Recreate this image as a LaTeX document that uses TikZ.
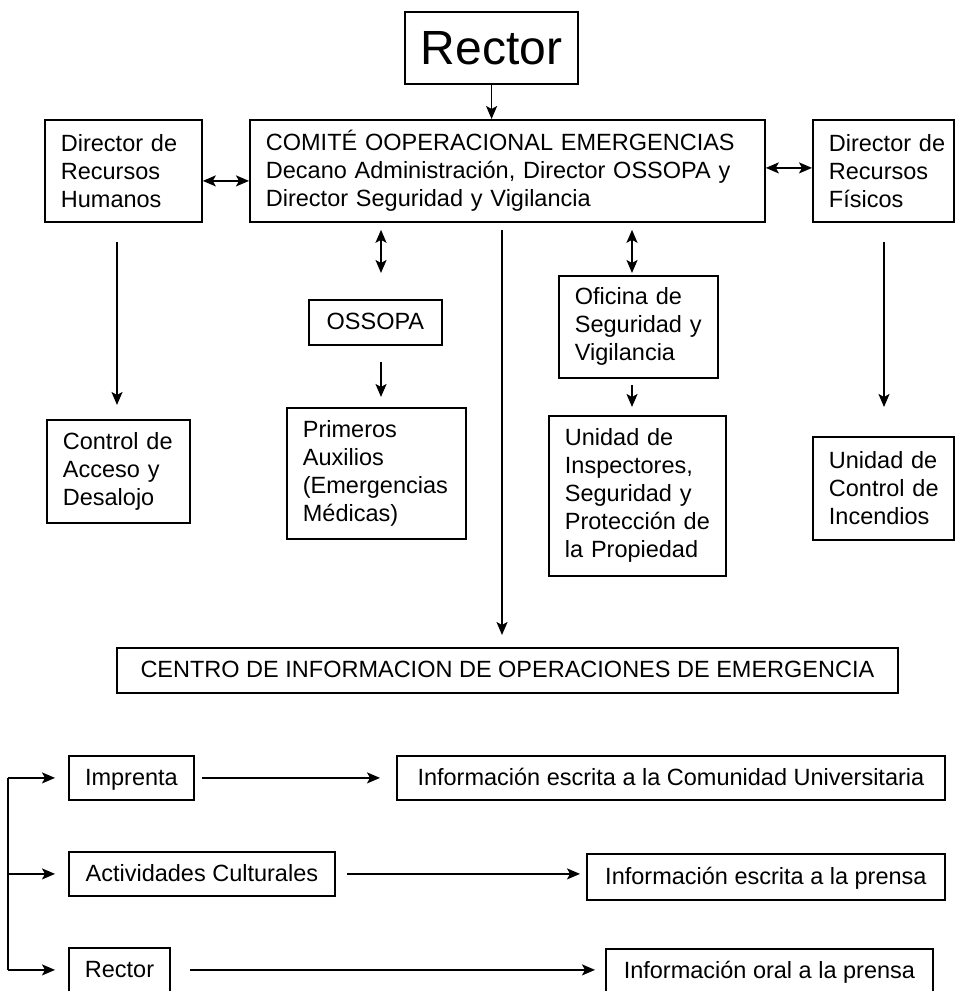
\documentclass[tikz,border=0pt]{standalone}
\usepackage{fontspec}
\setmainfont{Liberation Sans}
\usetikzlibrary{arrows.meta}
\hyphenpenalty=10000 \exhyphenpenalty=10000
\newcommand\ml[1]{\mbox{#1}}
\begin{document}
\begin{tikzpicture}[x=1pt,y=-1pt,
  box/.style={draw, line width=1.8pt, inner xsep=16pt, inner ysep=0pt,
    font=\fontsize{23.5}{28}\selectfont, anchor=north west},
  lbox/.style={box, align=left},
  cbox/.style={box, align=center, text height=17pt, text depth=2pt},
  arr/.style={line width=1.8pt, -{Stealth[length=13pt,width=11pt,inset=3pt]}},
  darr/.style={line width=1.8pt, {Stealth[length=13pt,width=11pt,inset=3pt]}-{Stealth[length=13pt,width=11pt,inset=3pt]}}]
\useasboundingbox (0,0) rectangle (955,991);
\fill[white] (0,0) rectangle (955,991);
% nodes
\node[box, align=center, font=\fontsize{48}{50}\selectfont, minimum width=173pt, minimum height=72pt] (rector) at (404,11) {Rector};
\node[lbox, text width=483pt, minimum height=102pt] (comite) at (249,119)
  {\ml{COMITÉ OOPERACIONAL EMERGENCIAS}\\\ml{Decano Administración, Director OSSOPA y}\\\ml{Director Seguridad y Vigilancia}};
\node[lbox, text width=125pt, minimum height=102pt] (drh) at (44,119)
  {\ml{Director de}\\\ml{Recursos}\\\ml{Humanos}};
\node[lbox, text width=109pt, minimum height=102pt] (drf) at (812,119)
  {\ml{Director de}\\\ml{Recursos}\\\ml{Físicos}};
\node[cbox, minimum width=133pt, minimum height=45pt] (ossopa) at (308,299) {OSSOPA};
\node[lbox, text width=147pt, minimum height=131pt] (prim) at (286,407)
  {\ml{Primeros}\\\ml{Auxilios}\\\ml{(Emergencias}\\\ml{Médicas)}};
\node[lbox, text width=127pt, minimum height=102pt] (ofic) at (558,275)
  {\ml{Oficina de}\\\ml{Seguridad y}\\\ml{Vigilancia}};
\node[lbox, text width=145pt, minimum height=160pt] (uinsp) at (548,415)
  {\ml{Unidad de}\\\ml{Inspectores,}\\\ml{Seguridad y}\\\ml{Protección de}\\\ml{la Propiedad}};
\node[lbox, text width=111pt, minimum height=103pt] (cacc) at (46,419)
  {\ml{Control de}\\\ml{Acceso y}\\\ml{Desalojo}};
\node[lbox, text width=109pt, minimum height=103pt] (uinc) at (812,436)
  {\ml{Unidad de}\\\ml{Control de}\\\ml{Incendios}};
\node[cbox, minimum width=781pt, minimum height=45pt] (centro) at (116,647)
  {CENTRO DE INFORMACION DE OPERACIONES DE EMERGENCIA};
\node[cbox, minimum width=125pt, minimum height=44pt] (impr) at (68,755) {Imprenta};
\node[cbox, minimum width=548pt, minimum height=44pt] (inf1) at (396,755)
  {Información escrita a la Comunidad Universitaria};
\node[cbox, minimum width=266pt, minimum height=44pt] (act) at (68,851) {Actividades Culturales};
\node[cbox, minimum width=358pt, minimum height=46pt] (inf2) at (586,853)
  {Información escrita a la prensa};
\node[cbox, minimum width=101pt, minimum height=44pt] (rect2) at (68,947) {Rector};
\node[cbox, minimum width=327pt, minimum height=44pt] (inf3) at (605,948)
  {Información oral a la prensa};
% column coordinates
\coordinate (xo) at (381,0);
\coordinate (xs) at (632,0);
\coordinate (xh) at (117,0);
\coordinate (xf) at (884,0);
\coordinate (xc) at (502,0);
\coordinate (xl) at (8,0);
% connectors
\draw[arr] (rector.south) -- (rector.south |- comite.north);
\draw[darr] ([yshift=-10pt]drh.east) -- ([yshift=-10pt]drh.east -| comite.west);
\draw[darr] ([yshift=3pt]comite.east) -- ([yshift=3pt]comite.east -| drf.west);
\draw[darr, shorten <=7pt, shorten >=26pt] (comite.south -| xo) -- (ossopa.north -| xo);
\draw[arr, shorten <=16pt, shorten >=10pt] (ossopa.south -| xo) -- (prim.north -| xo);
\draw[darr, shorten <=7pt, shorten >=2pt] (comite.south -| xs) -- (ofic.north -| xs);
\draw[arr, shorten <=6pt, shorten >=8pt] (ofic.south -| xs) -- (uinsp.north -| xs);
\draw[arr, shorten <=19pt, shorten >=14pt] (drh.south -| xh) -- (cacc.north -| xh);
\draw[arr, shorten <=19pt, shorten >=29pt] (drf.south -| xf) -- (uinc.north -| xf);
\draw[arr, shorten <=7pt, shorten >=12pt] (comite.south -| xc) -- (centro.north -| xc);
\draw[arr, shorten <=7pt, shorten >=16pt] (impr.east) -- (impr.east -| inf1.west);
\draw[arr, shorten <=11pt, shorten >=6pt] (act.east) -- (act.east -| inf2.west);
\draw[arr, shorten <=19pt, shorten >=10pt] (rect2.east) -- (rect2.east -| inf3.west);
\draw[line width=1.8pt] (impr.west -| xl) -- (rect2.west -| xl);
\draw[arr, shorten >=13pt] (impr.west -| xl) -- (impr.west);
\draw[arr, shorten >=13pt] (act.west -| xl) -- (act.west);
\draw[arr, shorten >=13pt] (rect2.west -| xl) -- (rect2.west);
\end{tikzpicture}
\end{document}
